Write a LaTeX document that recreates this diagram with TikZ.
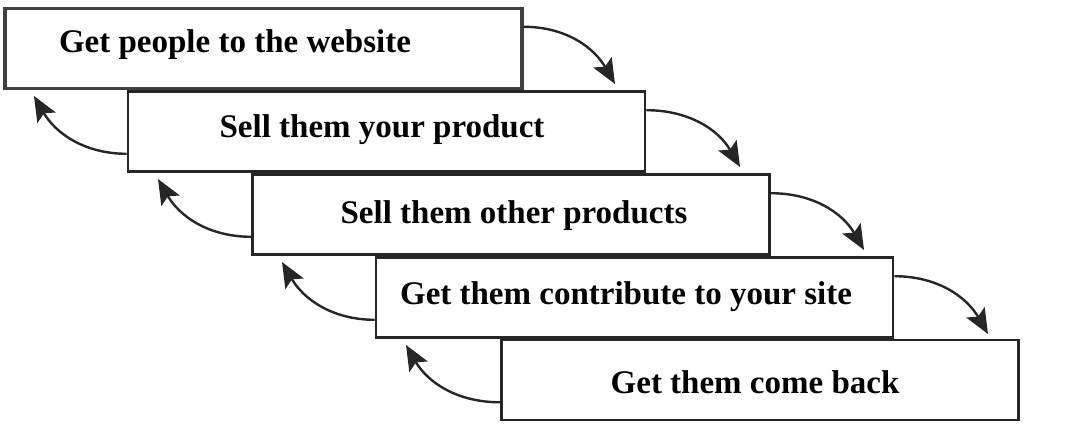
\documentclass[tikz,border=0pt]{standalone}
\usepackage{fontspec}
\setmainfont{Liberation Serif}
\usetikzlibrary{arrows.meta}
\begin{document}
\begin{tikzpicture}[x=1pt,y=-1pt,
  stepbox/.style={draw=black!85,line width=2.6pt,fill=white,minimum width=517pt,minimum height=80pt,inner sep=0pt},
  lbl/.style={font=\bfseries\fontsize{33}{36}\selectfont,inner sep=0pt},
  arr/.style={draw=black!85,line width=2.4pt,-{Stealth[length=25pt,width=21pt,inset=5pt,fill=black!85]}}]
\useasboundingbox (0,0) rectangle (1089,444);
\node[stepbox,line width=3.4pt,draw=black!75] (b1) at (263.5,48.5) {};
\node[stepbox] (b2) at (386.5,131.5) {};
\node[stepbox] (b3) at (511,214.5) {};
\node[stepbox] (b4) at (634.5,297.5) {};
\node[stepbox] (b5) at (760,380) {};
\node[lbl] (t1) at (235,45) {Get people to the website};
\node[lbl] (t2) at (382,130) {Sell them your product};
\node[lbl] (t3) at (514,216) {Sell them other products};
\node[lbl] (t4) at (626,297) {Get them contribute to your site};
\node[lbl] (t5) at (755,382) {Get them come back};
% right arrows
\coordinate (r1) at (615,84);
\coordinate (r2) at (740,167);
\coordinate (r3) at (864,250);
\coordinate (r4) at (988,334);
\draw[arr] ([yshift=-20pt]b1.north east) to[out=0,in=120] (r1);
\draw[arr] ([yshift=-20pt]b2.north east) to[out=0,in=120] (r2);
\draw[arr] ([yshift=-20pt]b3.north east) to[out=0,in=120] (r3);
\draw[arr] ([yshift=-20pt]b4.north east) to[out=0,in=120] (r4);
% left arrows
\coordinate (l1) at (34,96);
\coordinate (l2) at (158,179);
\coordinate (l3) at (282,262);
\coordinate (l4) at (406,345);
\draw[arr] ([yshift=19pt]b2.south west) to[out=180,in=-60] (l1);
\draw[arr] ([yshift=19pt]b3.south west) to[out=180,in=-60] (l2);
\draw[arr] ([yshift=19pt]b4.south west) to[out=180,in=-60] (l3);
\draw[arr] ([yshift=19pt]b5.south west) to[out=180,in=-60] (l4);
\end{tikzpicture}
\end{document}
